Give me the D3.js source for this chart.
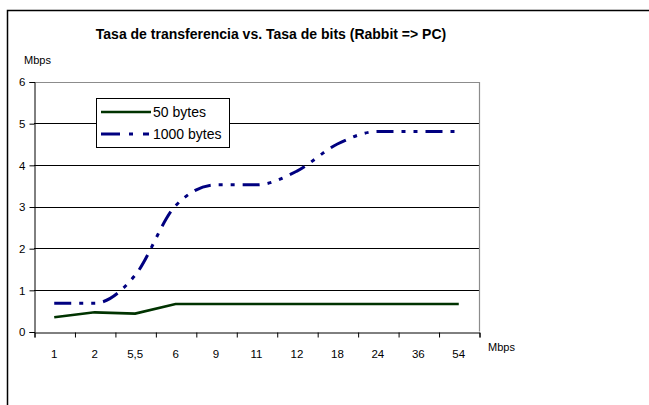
<!DOCTYPE html>
<html><head><meta charset="utf-8">
<script src="https://cdn.jsdelivr.net/npm/d3@7"></script>
<style>body{margin:0;background:#fff}svg{display:block}text{font-family:"Liberation Sans",Arial,sans-serif}</style>
</head><body>
<svg id="chart" width="649" height="405"></svg>
<script>
const categories = ["1","2","5,5","6","9","11","12","18","24","36","54"];
const bytes50 = [0.34,0.46,0.43,0.66,0.66,0.66,0.66,0.66,0.66,0.66,0.66];
const bytes1000 = [0.68,0.68,1.35,3.02,3.52,3.52,3.85,4.5,4.8,4.8,4.8];
const yTicks = [0,1,2,3,4,5,6];
const seriesNames = ["50 bytes","1000 bytes"];
const title = "Tasa de transferencia vs. Tasa de bits (Rabbit => PC)";
const unit = "Mbps";

const svg = d3.select("#chart");
const L = 34, R = 479, T = 81.5, B = 331.5;

svg.append("rect").attr("x",7.5).attr("y",10.5).attr("width",700).attr("height",500)
  .attr("fill","#fff").attr("stroke","#000").attr("stroke-width",1.5);

const x = d3.scaleBand().domain(categories).range([L,R]).padding(0);
const xb = d3.scaleLinear().domain([0,categories.length]).range([L,R]);
const y = d3.scaleLinear().domain([0,6]).range([B,T]);

// gridlines
svg.append("g").selectAll("line").data(yTicks.filter(d=>d>0 && d<6)).join("line")
  .attr("x1",L).attr("x2",R).attr("y1",d=>Math.round(y(d))+0.5).attr("y2",d=>Math.round(y(d))+0.5)
  .attr("stroke","#000").attr("stroke-width",1);
// plot border top/right
svg.append("path").attr("d",`M${L},${Math.round(T)+0.5}H${R+0.5}V${B}`)
  .attr("fill","none").attr("stroke","#8c8c8c").attr("stroke-width",1.2);

// y axis
const yAxis = svg.append("g").attr("transform",`translate(${L+0.5},0.5)`)
  .call(d3.axisLeft(y).tickValues(yTicks).tickSize(5).tickPadding(4).tickFormat(d3.format("d")));
yAxis.select(".domain").attr("stroke","#000");
yAxis.selectAll("text").attr("font-size","11.5px").attr("fill","#000").attr("font-family","Liberation Sans, Arial, sans-serif");

// x axis ticks at boundaries
const xAxis = svg.append("g").attr("transform",`translate(0.5,${Math.round(B)+0.5})`)
  .call(d3.axisBottom(xb).tickValues(d3.range(0,categories.length+1)).tickSize(5).tickFormat(""));
xAxis.select(".domain").attr("stroke","#000");
// x labels
svg.append("g").selectAll("text").data(categories).join("text")
  .attr("x",d=>x(d)+x.bandwidth()/2).attr("y",358).attr("text-anchor","middle")
  .attr("font-size","11.5px").text(d=>d);

// lines
const line = d3.line().x((d,i)=>x(categories[i])+x.bandwidth()/2).y(d=>y(d));
svg.append("path").datum(bytes50).attr("d",line).attr("fill","none")
  .attr("stroke","#003300").attr("stroke-width",2.6);
svg.append("path").datum(bytes1000).attr("d",line.curve(d3.curveMonotoneX)).attr("fill","none")
  .attr("stroke","#000080").attr("stroke-width",3).attr("stroke-dasharray","17,8,4,8,4,8");

// title and unit labels
svg.append("text").attr("x",271).attr("y",39).attr("text-anchor","middle")
  .attr("font-size","14px").attr("font-weight","bold").text(title);
svg.append("text").attr("x",24).attr("y",64).attr("font-size","11px").text(unit);
svg.append("text").attr("x",488).attr("y",351).attr("font-size","11px").text(unit);

// legend
const lg = svg.append("g");
lg.append("rect").attr("x",96.5).attr("y",98.5).attr("width",133).attr("height",49)
  .attr("fill","#fff").attr("stroke","#000").attr("stroke-width",1);
const rows = [{name:seriesNames[0],color:"#003300",dash:null,w:2.6,y:112},
              {name:seriesNames[1],color:"#000080",dash:"19,9,4,10,6,8",w:3,y:134}];
rows.forEach(r=>{
  lg.append("line").attr("x1",101).attr("x2",151).attr("y1",r.y).attr("y2",r.y)
    .attr("stroke",r.color).attr("stroke-width",r.w).attr("stroke-dasharray",r.dash);
  lg.append("text").attr("x",153).attr("y",r.y+5).attr("font-size","14px").text(r.name);
});
</script>
</body></html>
